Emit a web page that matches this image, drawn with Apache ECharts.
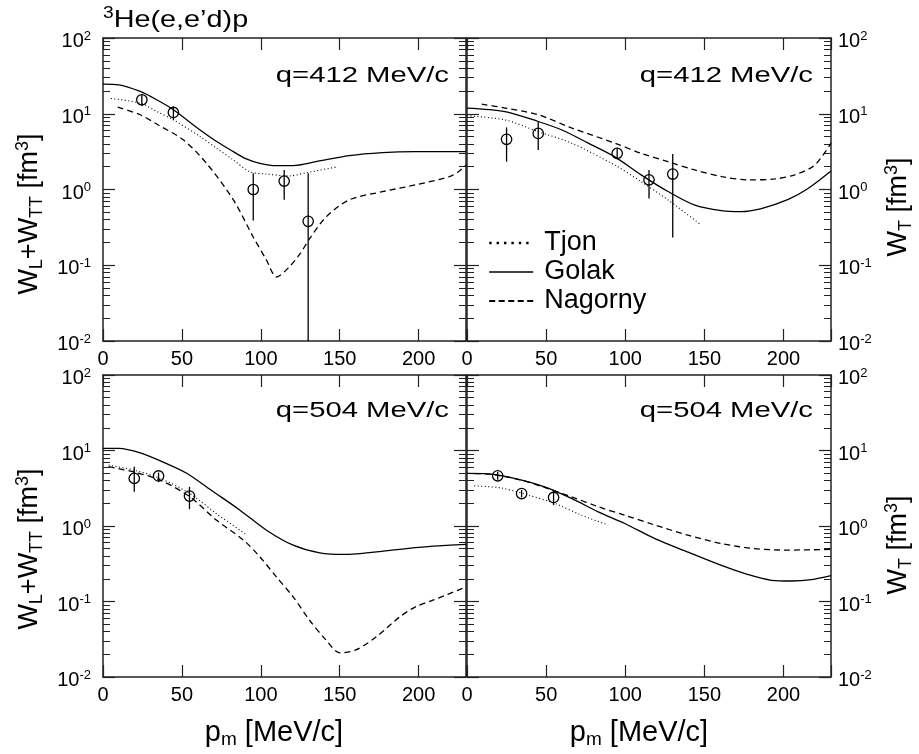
<!DOCTYPE html>
<html><head><meta charset="utf-8">
<script src="https://cdn.jsdelivr.net/npm/echarts@6/dist/echarts.min.js"></script>
<style>html,body{margin:0;padding:0;background:#fff}#c{width:919px;height:754px}</style>
</head><body><div id="c"></div>
<script>
// ---------- DATA ----------
// x: missing momentum p_m [MeV/c], y: structure function [fm^3]
// Top-left: q=412 MeV/c, W_L+W_TT
const tlGolakX = [0, 10, 23.6, 34, 44.6, 61.5, 72, 82.6, 90, 99.4, 110, 120.5, 135, 156, 177, 198, 230];
const tlGolakY = [24.6, 24.1, 19.7, 15.3, 11.3, 6.1, 4.3, 3.16, 2.58, 2.22, 2.07, 2.07, 2.33, 2.8, 3.07, 3.16, 3.16];
const tlTjonX = [5, 23.6, 34, 44.6, 61.5, 72, 82.6, 93, 103.6, 118, 129, 149];
const tlTjonY = [15.9, 13.8, 10.7, 8.3, 5.0, 3.5, 2.45, 1.72, 1.6, 1.51, 1.67, 2.0];
const tlNagX = [9.3, 23.6, 35, 51, 65.7, 82.6, 95, 103.6, 110, 118, 125, 131, 141.5, 156, 177, 198, 219.5, 225, 230];
const tlNagY = [12.2, 9.7, 7.1, 4.5, 2.2, 0.73, 0.24, 0.117, 0.070, 0.095, 0.143, 0.226, 0.437, 0.73, 0.935, 1.15, 1.48, 1.7, 2.1];
const tlDataX = [24.6, 44.6, 95.2, 114.8, 130];
const tlDataY = [15.3, 10.4, 1.0, 1.29, 0.38];
const tlDataLo = [12.7, 8.3, 0.39, 0.73, 0.001];
const tlDataHi = [17.8, 12.5, 1.64, 1.81, 1.64];

// Top-right: q=412 MeV/c, W_T
const trGolakX = [0, 24, 45, 60, 76.6, 93.4, 110, 127, 144, 160.8, 173, 186, 203, 215.5, 230];
const trGolakY = [11.9, 10.7, 7.9, 6.1, 4.1, 2.7, 1.56, 0.94, 0.62, 0.525, 0.51, 0.56, 0.74, 1.03, 1.75];
const trTjonX = [0, 24, 45, 66, 93.4, 110, 127, 148];
const trTjonY = [9.4, 8.3, 5.8, 4.1, 2.1, 1.27, 0.73, 0.34];
const trNagX = [9.3, 24, 45, 66, 93.4, 110, 127, 144, 161, 177.6, 194.5, 207, 219.7, 230];
const trNagY = [13.4, 11.9, 9.7, 6.5, 4.1, 3.0, 2.33, 1.81, 1.48, 1.34, 1.38, 1.56, 2.1, 4.1];
const trDataX = [25, 45, 94.9, 115, 130];
const trDataY = [4.6, 5.5, 3.0, 1.34, 1.6];
const trDataLo = [2.33, 3.33, 2.5, 0.76, 0.233];
const trDataHi = [6.6, 7.9, 3.5, 1.81, 2.95];

// Bottom-left: q=504 MeV/c, W_L+W_TT
const blGolakX = [0, 10, 23.6, 40.4, 53, 70, 86.8, 103.6, 120.5, 137.3, 154, 166.8, 188, 209, 230];
const blGolakY = [10.7, 10.7, 9.3, 6.7, 5.0, 2.84, 1.62, 0.88, 0.557, 0.44, 0.42, 0.44, 0.49, 0.54, 0.57];
const blTjonX = [3.6, 19.4, 36.2, 55, 72, 90];
const blTjonY = [6.4, 5.5, 4.27, 2.69, 1.45, 0.79];
const blNagX = [3.6, 19.4, 36.2, 55, 72, 89, 99.4, 110, 120.5, 131, 141.5, 150, 160.5, 173, 188, 198, 209, 230];
const blNagY = [6.1, 5.2, 4.05, 2.44, 1.19, 0.65, 0.39, 0.21, 0.115, 0.056, 0.0306, 0.0209, 0.023, 0.0339, 0.0625, 0.085, 0.104, 0.156];
const blDataX = [19.8, 35.2, 54.8];
const blDataY = [4.27, 4.6, 2.49];
const blDataLo = [2.84, 3.85, 1.67];
const blDataHi = [6.1, 5.1, 3.3];

// Bottom-right: q=504 MeV/c, W_T
const brGolakX = [0, 13.5, 30, 49, 66, 82.9, 99.7, 118.7, 139.7, 160.8, 177.6, 192.3, 205, 217.6, 230];
const brGolakY = [4.97, 4.9, 4.27, 3.3, 2.32, 1.54, 1.08, 0.68, 0.45, 0.30, 0.227, 0.191, 0.187, 0.195, 0.22];
const brTjonX = [4.6, 21.9, 38.7, 55.6, 72.4, 89.2];
const brTjonY = [3.4, 3.18, 2.56, 1.99, 1.39, 1.03];
const brNagX = [5, 15, 34.5, 49, 66, 82.9, 99.7, 118.7, 139.7, 160.8, 181.8, 203, 230];
const brNagY = [4.95, 4.85, 4.05, 3.24, 2.44, 1.8, 1.39, 1.03, 0.755, 0.586, 0.50, 0.48, 0.49];
const brDataX = [19.4, 34.5, 54.7];
const brDataY = [4.62, 2.69, 2.39];
const brDataLo = [4.1, 2.4, 1.89];
const brDataHi = [5.2, 3.0, 2.99];

const xTickStep = 50;
const xMin = 0, xMax = 230;
const yMin = 0.01, yMax = 100;
const qLabels = ['q=412 MeV/c', 'q=412 MeV/c', 'q=504 MeV/c', 'q=504 MeV/c'];
const seriesNames = ['Tjon', 'Golak', 'Nagorny'];

// ---------- LAYOUT / STYLE ----------
const FONT = '"Liberation Sans", Arial, Helvetica, sans-serif';
const INK = '#000';
const FRAME = '#222';
const panels = [
  { grid: { left: 103, top: 38, width: 363, height: 303 }, side: 'left',
    curves: [[tlTjonX, tlTjonY], [tlGolakX, tlGolakY], [tlNagX, tlNagY]],
    pts: [tlDataX, tlDataY, tlDataLo, tlDataHi] },
  { grid: { left: 467, top: 38, width: 364, height: 303 }, side: 'right',
    curves: [[trTjonX, trTjonY], [trGolakX, trGolakY], [trNagX, trNagY]],
    pts: [trDataX, trDataY, trDataLo, trDataHi] },
  { grid: { left: 103, top: 375, width: 363, height: 302 }, side: 'left',
    curves: [[blTjonX, blTjonY], [blGolakX, blGolakY], [blNagX, blNagY]],
    pts: [blDataX, blDataY, blDataLo, blDataHi] },
  { grid: { left: 467, top: 375, width: 364, height: 302 }, side: 'right',
    curves: [[brTjonX, brTjonY], [brGolakX, brGolakY], [brNagX, brNagY]],
    pts: [brDataX, brDataY, brDataLo, brDataHi] }
];
const lineTypes = [[1, 2.5], 'solid', [6, 4]];

// minor log ticks (2..9 in each decade), in log10 space for helper axes
const minorLogTicks = [];
for (let n = -2; n < 2; n++) for (let k = 2; k <= 9; k++) minorLogTicks.push(n + Math.log10(k));

const yLabelRich = {
  b: { fontSize: 20, fontFamily: FONT, color: INK, lineHeight: 24 },
  s: { fontSize: 13, fontFamily: FONT, color: INK, lineHeight: 14, verticalAlign: 'top' }
};
const yLabelFormatter = v => '{b|10}{s|' + Math.round(Math.log10(v)) + '}';

const grids = [], xAxes = [], yAxes = [], series = [];
panels.forEach((p, i) => {
  grids.push(Object.assign({ containLabel: false, outerBoundsMode: 'none' }, p.grid));
  const axisLine = { show: true, onZero: false, lineStyle: { color: FRAME, width: 1.5 } };
  ['bottom', 'top'].forEach(pos => {
    xAxes.push({
      type: 'value', gridIndex: i, position: pos, min: xMin, max: xMax, interval: xTickStep,
      axisLine, splitLine: { show: false },
      axisTick: { show: true, inside: true, length: 12, lineStyle: { color: FRAME, width: 1.2 } },
      axisLabel: { show: pos === 'bottom', fontSize: 20, fontFamily: FONT, color: INK, margin: 8,
        formatter: v => (v % xTickStep === 0 ? String(v) : '') }
    });
  });
  ['left', 'right'].forEach(pos => {
    yAxes.push({
      type: 'log', logBase: 10, gridIndex: i, position: pos, min: yMin, max: yMax,
      axisLine, splitLine: { show: false }, minorTick: { show: false },
      axisTick: { show: true, inside: true, length: 12, lineStyle: { color: FRAME, width: 1.2 } },
      axisLabel: { show: pos === p.side, margin: pos === 'left' ? 12 : 7, formatter: yLabelFormatter,
        rich: yLabelRich, padding: [7, 0, 0, 0] }
    });
  });
  ['left', 'right'].forEach(pos => {
    yAxes.push({
      type: 'value', gridIndex: i, position: pos, min: -2, max: 2,
      axisLine: { show: false, onZero: false }, splitLine: { show: false }, axisLabel: { show: false },
      axisTick: { show: true, inside: true, length: 7, customValues: minorLogTicks,
        lineStyle: { color: FRAME, width: 1 } }
    });
  });
  p.curves.forEach((c, k) => {
    series.push({
      type: 'line', name: seriesNames[k], xAxisIndex: 2 * i, yAxisIndex: 4 * i,
      data: c[0].map((x, j) => [x, c[1][j]]), symbol: 'none', smooth: 0.3, silent: true,
      lineStyle: { color: INK, width: k === 0 ? 1.1 : 1.3, type: lineTypes[k] }, z: 3
    });
  });
  const d = p.pts;
  series.push({
    type: 'custom', xAxisIndex: 2 * i, yAxisIndex: 4 * i, clip: true, silent: true, z: 4,
    data: d[0].map((x, j) => [x, d[1][j], d[2][j], d[3][j]]),
    renderItem: (params, api) => {
      const c = api.coord([api.value(0), api.value(1)]);
      const a = api.coord([api.value(0), api.value(2)]);
      const b = api.coord([api.value(0), api.value(3)]);
      return { type: 'group', children: [
        { type: 'line', shape: { x1: a[0], y1: a[1], x2: b[0], y2: b[1] }, style: { stroke: INK, lineWidth: 1.3 } },
        { type: 'circle', shape: { cx: c[0], cy: c[1], r: 5.2 }, style: { fill: 'none', stroke: INK, lineWidth: 1.3 } }
      ] };
    }
  });
});

function txt(x, y, text, opts) {
  return Object.assign({ type: 'text', x, y, z: 10, silent: true,
    style: Object.assign({ text, fill: INK, fontFamily: FONT }, opts.style) }, opts.el || {});
}
const titleRich = {
  b: { fontSize: 27, fontFamily: FONT, fill: INK, lineHeight: 32 },
  sub: { fontSize: 18, fontFamily: FONT, fill: INK, lineHeight: 16, verticalAlign: 'bottom' },
  sup: { fontSize: 18, fontFamily: FONT, fill: INK, lineHeight: 18, verticalAlign: 'top' }
};
const graphics = [];
// overall title
graphics.push(txt(103, 20, '{sup|3}{b|He(e,e’d)p}', { el: { scaleX: 1.2 }, style: {
  align: 'left', verticalAlign: 'middle', textAlign: 'left', textVerticalAlign: 'middle',
  rich: { b: { fontSize: 24, fontFamily: FONT, fill: INK, lineHeight: 28 },
          sup: { fontSize: 16, fontFamily: FONT, fill: INK, lineHeight: 16, verticalAlign: 'top' } } } }));
// q labels
const qPos = [[449, 76], [813, 76], [449, 411], [813, 411]];
qLabels.forEach((q, i) => graphics.push(txt(qPos[i][0], qPos[i][1], q, { el: { scaleX: 1.33 }, style: {
  fontSize: 22, align: 'right', verticalAlign: 'middle', textAlign: 'right', textVerticalAlign: 'middle' } })));
// y titles
const leftTitle = '{b|W}{sub|L}{b|+W}{sub|TT}{b| [fm}{sup|3}{b|]}';
const rightTitle = '{b|W}{sub|T}{b| [fm}{sup|3}{b|]}';
[[30, 214, leftTitle], [30, 549, leftTitle], [899, 207, rightTitle], [899, 545, rightTitle]].forEach(t =>
  graphics.push(txt(t[0], t[1], t[2], { el: { rotation: Math.PI / 2 }, style: {
    rich: titleRich, align: 'center', verticalAlign: 'middle', textAlign: 'center', textVerticalAlign: 'middle' } })));
// x titles
const xTitle = '{b|p}{sub|m}{b| [MeV/c]}';
const xRich = {
  b: { fontSize: 29, fontFamily: FONT, fill: INK, lineHeight: 32 },
  sub: { fontSize: 19, fontFamily: FONT, fill: INK, lineHeight: 14, verticalAlign: 'bottom' }
};
[[274, 733], [639, 733]].forEach(t => graphics.push(txt(t[0], t[1], xTitle, { style: {
  rich: xRich, align: 'center', verticalAlign: 'middle', textAlign: 'center', textVerticalAlign: 'middle' } })));

const chart = echarts.init(document.getElementById('c'), null, { renderer: 'canvas' });
chart.setOption({
  backgroundColor: '#fff',
  animation: false,
  grid: grids,
  xAxis: xAxes,
  yAxis: yAxes,
  series,
  legend: {
    data: [
      { name: 'Tjon', lineStyle: { width: 2.4, type: [2.4, 5] } },
      { name: 'Golak', lineStyle: { width: 1.6 } },
      { name: 'Nagorny', lineStyle: { width: 1.8, type: [6, 3.5] } }
    ],
    orient: 'vertical', left: 488, top: 229, padding: 0,
    itemWidth: 44, itemHeight: 14, itemGap: 1, selectedMode: false,
    itemStyle: { opacity: 0 },
    textStyle: { fontSize: 27, fontFamily: FONT, color: INK, lineHeight: 28, padding: [0, 0, 0, 6] }
  },
  graphic: graphics
});
</script></body></html>
